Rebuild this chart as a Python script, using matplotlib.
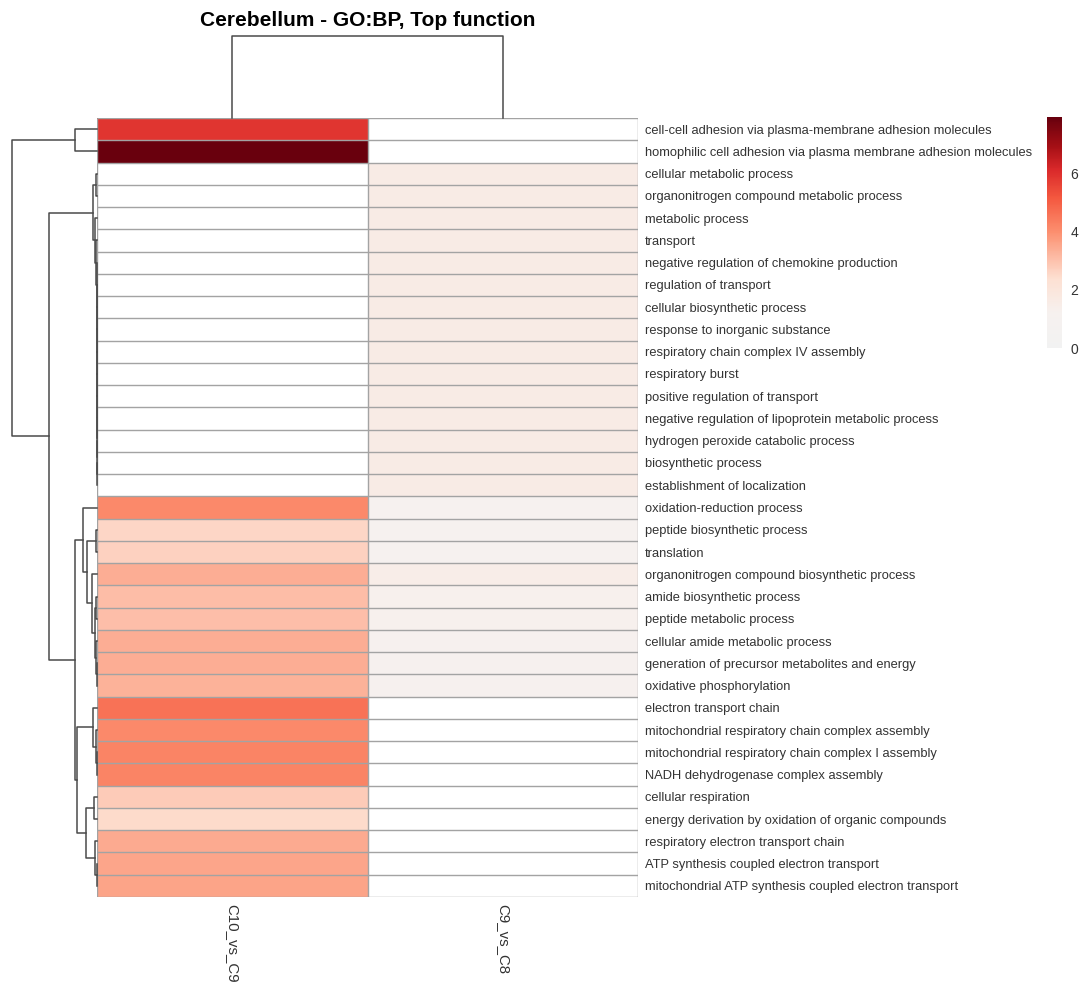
import numpy as np
import matplotlib
matplotlib.use('Agg')
import matplotlib.pyplot as plt
from matplotlib.colors import LinearSegmentedColormap

plt.rcParams['font.family'] = ['Liberation Sans', 'DejaVu Sans']

nan = np.nan

terms = [
    'cell-cell adhesion via plasma-membrane adhesion molecules',
    'homophilic cell adhesion via plasma membrane adhesion molecules',
    'cellular metabolic process',
    'organonitrogen compound metabolic process',
    'metabolic process',
    'transport',
    'negative regulation of chemokine production',
    'regulation of transport',
    'cellular biosynthetic process',
    'response to inorganic substance',
    'respiratory chain complex IV assembly',
    'respiratory burst',
    'positive regulation of transport',
    'negative regulation of lipoprotein metabolic process',
    'hydrogen peroxide catabolic process',
    'biosynthetic process',
    'establishment of localization',
    'oxidation-reduction process',
    'peptide biosynthetic process',
    'translation',
    'organonitrogen compound biosynthetic process',
    'amide biosynthetic process',
    'peptide metabolic process',
    'cellular amide metabolic process',
    'generation of precursor metabolites and energy',
    'oxidative phosphorylation',
    'electron transport chain',
    'mitochondrial respiratory chain complex assembly',
    'mitochondrial respiratory chain complex I assembly',
    'NADH dehydrogenase complex assembly',
    'cellular respiration',
    'energy derivation by oxidation of organic compounds',
    'respiratory electron transport chain',
    'ATP synthesis coupled electron transport',
    'mitochondrial ATP synthesis coupled electron transport',
]

contrasts = ['C10_vs_C9', 'C9_vs_C8']

# -log10 p-values per contrast (blank = term not enriched)
c10_vs_c9 = [5.9, 7.9,
             nan, nan, nan, nan, nan, nan, nan, nan, nan, nan, nan, nan, nan, nan, nan,
             4.1, 2.6, 2.7, 3.4, 3.1, 3.05, 3.4, 3.4, 3.3,
             4.6, 4.1, 4.25, 4.25,
             2.8, 2.5, 3.45, 3.55, 3.6]
c9_vs_c8 = [nan, nan,
            1.6, 1.6, 1.6, 1.6, 1.6, 1.6, 1.6, 1.6, 1.6, 1.6, 1.6, 1.6, 1.6, 1.6, 1.6,
            1.2, 1.2, 1.1, 1.5, 1.3, 1.3, 1.25, 1.25, 1.25,
            nan, nan, nan, nan, nan, nan, nan, nan, nan]

# hierarchical clustering of rows: (left, right, height), new ids from 35
row_links = [
    (0, 1, 0.26),      # 35
    (2, 3, 0.01),      # 36
    (15, 16, 0.0),     # 37
    (14, 37, 0.0),     # 38
    (13, 38, 0.0),     # 39
    (12, 39, 0.0),     # 40
    (11, 40, 0.0),     # 41
    (10, 41, 0.0),     # 42
    (9, 42, 0.0),      # 43
    (8, 43, 0.0),      # 44
    (7, 44, 0.0),      # 45
    (6, 45, 0.0),      # 46
    (5, 46, 0.015),    # 47
    (4, 47, 0.025),    # 48
    (36, 48, 0.05),    # 49
    (18, 19, 0.01),    # 50
    (24, 25, 0.005),   # 51
    (23, 51, 0.01),    # 52
    (21, 22, 0.008),   # 53
    (53, 52, 0.02),    # 54
    (20, 54, 0.06),    # 55
    (50, 55, 0.114),   # 56
    (17, 56, 0.17),    # 57
    (28, 29, 0.0),     # 58
    (27, 58, 0.01),    # 59
    (26, 59, 0.05),    # 60
    (30, 31, 0.03),    # 61
    (33, 34, 0.005),   # 62
    (32, 62, 0.02),    # 63
    (61, 63, 0.13),    # 64
    (60, 64, 0.23),    # 65
    (57, 65, 0.26),    # 66
    (49, 66, 0.565),   # 67
    (35, 67, 1.0),     # 68
]
col_links = [(0, 1, 1.0)]


def dendro_segments(links, n):
    pos = {i: i + 0.5 for i in range(n)}
    hgt = {i: 0.0 for i in range(n)}
    segs = []
    for k, (a, b, h) in enumerate(links):
        segs.append(([hgt[a], h, h, hgt[b]], [pos[a], pos[a], pos[b], pos[b]]))
        pos[n + k] = (pos[a] + pos[b]) / 2
        hgt[n + k] = h
    return segs


data = np.ma.masked_invalid(np.column_stack([c10_vs_c9, c9_vs_c8]))
n_rows, n_cols = data.shape
vmax = 7.95

cmap = LinearSegmentedColormap.from_list('pval', [
    (0.0, '#f2f2f2'),
    (1.2 / 8, '#f6f1ef'),
    (2.4 / 8, '#fde0d2'),
    (4.0 / 8, '#fc9070'),
    (5.2 / 8, '#f4583f'),
    (6.2 / 8, '#d9282a'),
    (7.0 / 8, '#a50f15'),
    (1.0, '#67000d'),
])
cmap.set_bad('white')

W, H = 1079, 983
fig = plt.figure(figsize=(W / 100, H / 100), dpi=100)

hm_l, hm_r, hm_t, hm_b = 97, 638, 118, 897
ax = fig.add_axes([hm_l / W, 1 - hm_b / H, (hm_r - hm_l) / W, (hm_b - hm_t) / H])
mesh = ax.pcolormesh(np.arange(n_cols + 1), np.arange(n_rows + 1), data,
                     cmap=cmap, vmin=0, vmax=vmax)
grid_col = '#a3a3a3'
ax.hlines(np.arange(n_rows + 1), 0, n_cols, color=grid_col, lw=1.0)
ax.vlines(np.arange(n_cols + 1), 0, n_rows, color=grid_col, lw=1.0)
ax.set_xlim(0, n_cols)
ax.set_ylim(n_rows, 0)
for s in ax.spines.values():
    s.set_visible(False)
ax.yaxis.tick_right()
ax.set_yticks(np.arange(n_rows) + 0.5)
ax.set_yticklabels(terms, fontsize=9.3, color='#333333')
ax.set_xticks(np.arange(n_cols) + 0.5)
ax.set_xticklabels(contrasts, fontsize=10.8, color='#333333', rotation=270, va='top')
ax.tick_params(length=0, pad=5)

# row dendrogram
axr = fig.add_axes([12 / W, 1 - hm_b / H, (hm_l - 12) / W, (hm_b - hm_t) / H])
for xs, ys in dendro_segments(row_links, n_rows):
    axr.plot(xs, ys, color='#4a4a4a', lw=1.1, clip_on=False)
axr.set_xlim(1.0, 0)
axr.set_ylim(n_rows, 0)
axr.axis('off')

# column dendrogram
axc = fig.add_axes([hm_l / W, 1 - hm_t / H, (hm_r - hm_l) / W, (hm_t - 36) / H])
for hs, xs in dendro_segments(col_links, n_cols):
    axc.plot(xs, hs, color='#4a4a4a', lw=1.1, clip_on=False)
axc.set_xlim(0, n_cols)
axc.set_ylim(0, 1.0)
axc.axis('off')

# colour key
cax = fig.add_axes([1047 / W, 1 - 348 / H, 15 / W, 231 / H])
cb = fig.colorbar(mesh, cax=cax, ticks=[0, 2, 4, 6])
cb.outline.set_visible(False)
cax.tick_params(length=0, labelsize=10, labelcolor='#333333', pad=6)

fig.text((hm_l + hm_r) / 2 / W, 1 - 20 / H, 'Cerebellum - GO:BP, Top function',
         ha='center', va='center', fontsize=15, fontweight='bold')

fig.savefig('out.png', dpi=100, facecolor='white')
